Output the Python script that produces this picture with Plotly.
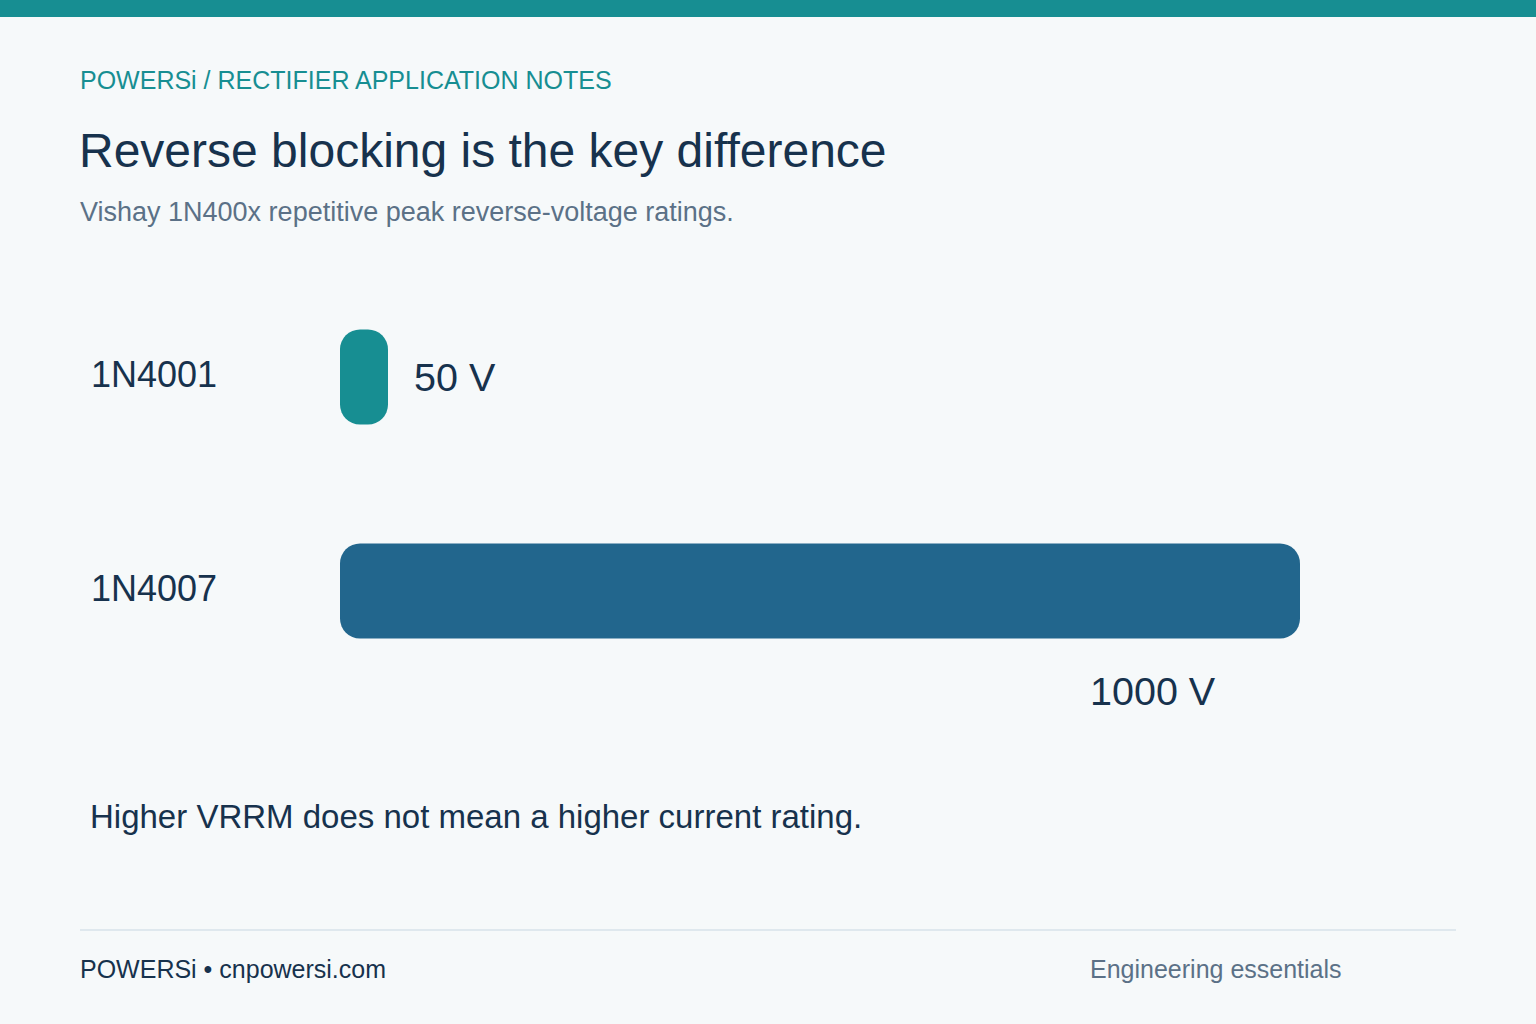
import plotly.graph_objects as go

# ---- data ----
parts = ["1N4001", "1N4007"]
vrrm = [50, 1000]
value_labels = ["50 V", "1000 V"]
bar_colors = ["#178e92", "#22668d"]

header = "POWERSi / RECTIFIER APPLICATION NOTES"
title = "Reverse blocking is the key difference"
subtitle = "Vishay 1N400x repetitive peak reverse-voltage ratings."
note = "Higher VRRM does not mean a higher current rating."
footer_left = "POWERSi \u2022 cnpowersi.com"
footer_right = "Engineering essentials"

# ---- styles ----
W, H = 1536, 1024
BG = "#f6f9fa"
TEAL = "#178e92"
DARK = "#17324d"
GRAY = "#5b7187"
FONT = "Liberation Sans, Arial, Helvetica, sans-serif"


def py(pix):
    return 1 - pix / H


def px(pix):
    return pix / W


fig = go.Figure()

fig.add_trace(go.Bar(y=parts, x=vrrm, base=[0] * len(vrrm), orientation="h",
                     marker=dict(color=bar_colors, line=dict(width=0)),
                     hoverinfo="skip", showlegend=False))

ann = []
ann.append(dict(text=header, x=px(78), y=py(80), xref="paper", yref="paper",
                xanchor="left", yanchor="middle", showarrow=False,
                font=dict(family=FONT, size=25, color=TEAL)))
ann.append(dict(text=title, x=px(77), y=py(150), xref="paper", yref="paper",
                xanchor="left", yanchor="middle", showarrow=False,
                font=dict(family=FONT, size=48, color=DARK)))
ann.append(dict(text=subtitle, x=px(78), y=py(212), xref="paper", yref="paper",
                xanchor="left", yanchor="middle", showarrow=False,
                font=dict(family=FONT, size=27, color=GRAY)))

for p in parts:
    ann.append(dict(text=p, x=px(89), y=p, xref="paper", yref="y",
                    xanchor="left", yanchor="middle", showarrow=False, yshift=3,
                    font=dict(family=FONT, size=36, color=DARK)))

ann.append(dict(text=value_labels[0], x=vrrm[0], y=parts[0], xref="x", yref="y",
                xanchor="left", yanchor="middle", showarrow=False, xshift=24,
                font=dict(family=FONT, size=39.5, color=DARK)))
ann.append(dict(text=value_labels[1], x=vrrm[1], y=parts[1], xref="x", yref="y",
                xanchor="right", yanchor="middle", showarrow=False,
                xshift=-82, yshift=-100,
                font=dict(family=FONT, size=39.5, color=DARK)))

ann.append(dict(text=note, x=px(88), y=py(816), xref="paper", yref="paper",
                xanchor="left", yanchor="middle", showarrow=False,
                font=dict(family=FONT, size=33, color=DARK)))

ann.append(dict(text=footer_left, x=px(78), y=py(969), xref="paper", yref="paper",
                xanchor="left", yanchor="middle", showarrow=False,
                font=dict(family=FONT, size=25, color=DARK)))
ann.append(dict(text=footer_right, x=px(1088), y=py(969), xref="paper", yref="paper",
                xanchor="left", yanchor="middle", showarrow=False,
                font=dict(family=FONT, size=25, color=GRAY)))

shapes = [
    dict(type="rect", xref="paper", yref="paper", x0=0, x1=1, y0=py(17), y1=1,
         fillcolor=TEAL, line=dict(width=0), layer="below"),
    dict(type="line", xref="paper", yref="paper", x0=px(80), x1=px(1456),
         y0=py(930), y1=py(930), line=dict(color="#dfe8ee", width=2)),
]

fig.update_layout(
    width=W, height=H,
    margin=dict(l=0, r=0, t=0, b=0),
    paper_bgcolor=BG, plot_bgcolor=BG,
    bargap=0.556, barcornerradius=20,
    showlegend=False,
    annotations=ann, shapes=shapes,
    xaxis=dict(domain=[px(340), px(1300)], range=[0, 1000], visible=False,
               fixedrange=True),
    yaxis=dict(domain=[py(698), py(270)], autorange="reversed", visible=False,
               fixedrange=True, type="category"),
)

fig.write_html(
    "out.html",
    config={"displayModeBar": False},
    post_script="document.body.style.margin='0';document.body.style.background='#f6f9fa';",
)
